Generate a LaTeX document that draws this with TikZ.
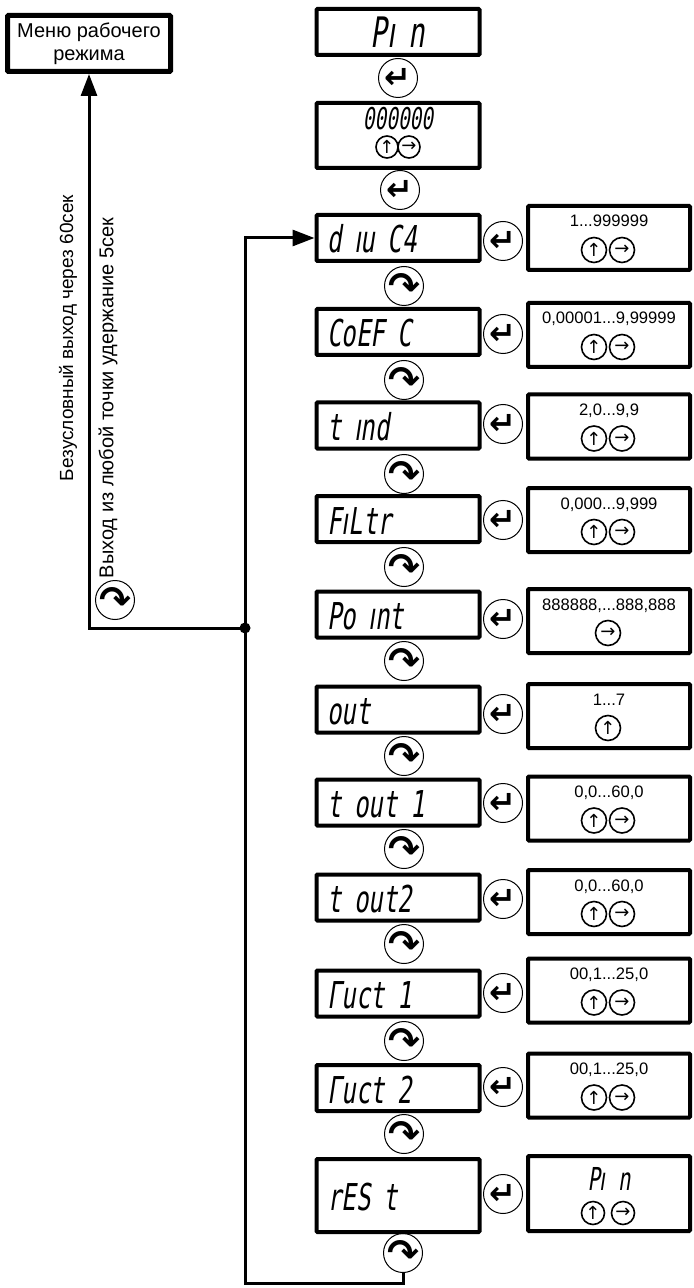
\documentclass[tikz,border=0pt]{standalone}
\usepackage{fontspec}
\setmainfont{Liberation Sans}
\newfontfamily\lcdfont[FakeSlant=0.15,FakeStretch=0.65]{DejaVu Sans Mono}
\newfontfamily\lcdsans[FakeSlant=0.15,FakeStretch=0.65]{DejaVu Sans}
\newfontfamily\symfont{DejaVu Sans}
\newcommand\segi{{\lcdsans ı}}
\usetikzlibrary{arrows.meta}

\tikzset{
  menu/.style={draw, line width=2.5pt, rounded corners=0.5pt, minimum width=81.5pt, minimum height=28pt,
    align=center, font=\fontsize{10}{11.5}\selectfont},
  lcd/.style={draw, line width=2pt, rounded corners=0.5pt, minimum height=23pt, inner xsep=5.5pt,
    text width=70.5pt, align=left, text height=15pt, text depth=0pt, font=\lcdfont\fontsize{18.5}{18.5}\selectfont},
  rng/.style={draw, line width=2pt, rounded corners=0.5pt, minimum width=81pt, minimum height=32pt},
  rtext/.style={inner sep=0pt, anchor=base, font=\fontsize{8.3}{10}\selectfont},
  key/.style={draw, circle, line width=0.5pt, minimum size=19.5pt, inner sep=0pt},
  enter/.style={key, label={[font=\symfont\bfseries\fontsize{16}{16}\selectfont]center:↵}},
  turn/.style={key, label={[font=\symfont\bfseries\fontsize{19}{19}\selectfont]center:↷}},
  btn/.style={draw, circle, line width=0.8pt, minimum size=12.5pt, inner sep=0pt, font=\symfont\fontsize{9}{9}\selectfont},
  flow/.style={line width=1.5pt, -{Triangle[length=11pt,width=8pt]}},
}

\begin{document}
\begin{tikzpicture}[x=0.5pt, y=-0.5pt]
    \useasboundingbox (0,0) rectangle (693,1288);

    % exit to the working menu
    \node[menu] (menu) at (89,43.5) {Меню рабочего\\режима};
    \node[rotate=90, font=\fontsize{9.5}{11}\selectfont] (note1) at (68,338) {Безусловный выход через 60сек};
    \node[rotate=90, font=\fontsize{10}{12}\selectfont] (note2) at (108,398) {Выход из любой точки удержание 5сек};
    \node[turn] (c0) at (115,600) {};

    % password
    \node[lcd, align=center, text height=15.3pt, font=\lcdfont\fontsize{21}{21}\selectfont] (pin) at (398,32) {P\segi{} n};
    \node[enter] (e1) at (398,78) {};
    \node[lcd, minimum height=32.5pt] (code) at (398,135.5) {};
    \node[inner sep=0pt, font=\lcdfont\fontsize{15}{15}\selectfont] (code-t) at (398,119) {000000};
    \node[btn, minimum size=11pt] (code-u) at (387,147) {↑};
    \node[btn, minimum size=11pt] (code-s) at (409,147) {→};
    \node[enter] (e2) at (400,190) {};

    % parameters
    \node[lcd] (div) at (398,238) {d \segi{}u C4};
    \node[enter] (div-e) at (503,241) {};
    \node[rng] (div-r) at (609,238) {};
    \node[rtext] (div-t) at (609,227) {1...999999};
    \node[btn] (div-u) at (594,250) {↑};
    \node[btn] (div-s) at (622,250) {→};
    \node[turn] (c1) at (404,286) {};

    \node[lcd] (coef) at (398,332) {CoEF C};
    \node[enter] (coef-e) at (503,334) {};
    \node[rng] (coef-r) at (609,335) {};
    \node[rtext] (coef-t) at (609,324) {0,00001...9,99999};
    \node[btn] (coef-u) at (594,347) {↑};
    \node[btn] (coef-s) at (622,347) {→};
    \node[turn] (c2) at (404,380) {};

    \node[lcd] (tind) at (398,425.5) {t  \segi{}nd};
    \node[enter] (tind-e) at (503,424) {};
    \node[rng] (tind-r) at (609,426.5) {};
    \node[rtext] (tind-t) at (609,415.5) {2,0...9,9};
    \node[btn] (tind-u) at (594,438.5) {↑};
    \node[btn] (tind-s) at (622,438.5) {→};
    \node[turn] (c3) at (404,474) {};

    \node[lcd] (filtr) at (398,519) {F\segi{}Ltr};
    \node[enter] (filtr-e) at (503,520) {};
    \node[rng] (filtr-r) at (609,520) {};
    \node[rtext] (filtr-t) at (609,509) {0,000...9,999};
    \node[btn] (filtr-u) at (594,532) {↑};
    \node[btn] (filtr-s) at (622,532) {→};
    \node[turn] (c4) at (404,567) {};

    \node[lcd] (point) at (398,614.5) {Po \segi{}nt};
    \node[enter] (point-e) at (503,619) {};
    \node[rng] (point-r) at (609,621) {};
    \node[rtext] (point-t) at (609,610) {888888,...888,888};
    \node[btn] (point-s) at (608,633) {→};
    \node[turn] (c5) at (404,661) {};

    \node[lcd] (out) at (398,709.5) {out};
    \node[enter] (out-e) at (503,714) {};
    \node[rng] (out-r) at (609,716) {};
    \node[rtext] (out-t) at (609,705) {1...7};
    \node[btn] (out-u) at (608,728) {↑};
    \node[turn] (c6) at (404,756) {};

    \node[lcd] (tout1) at (398,802.5) {t out 1};
    \node[enter] (tout1-e) at (503,803) {};
    \node[rng] (tout1-r) at (609,808.5) {};
    \node[rtext] (tout1-t) at (609,797.5) {0,0...60,0};
    \node[btn] (tout1-u) at (594,820.5) {↑};
    \node[btn] (tout1-s) at (622,820.5) {→};
    \node[turn] (c7) at (404,849) {};

    \node[lcd] (tout2) at (398,897.5) {t out2};
    \node[enter] (tout2-e) at (503,899) {};
    \node[rng] (tout2-r) at (609,902) {};
    \node[rtext] (tout2-t) at (609,891) {0,0...60,0};
    \node[btn] (tout2-u) at (594,914) {↑};
    \node[btn] (tout2-s) at (622,914) {→};
    \node[turn] (c8) at (404,944) {};

    \node[lcd] (gist1) at (398,993.5) {Гuct 1};
    \node[enter] (gist1-e) at (503,993) {};
    \node[rng] (gist1-r) at (609,990.5) {};
    \node[rtext] (gist1-t) at (609,979.5) {00,1...25,0};
    \node[btn] (gist1-u) at (594,1002.5) {↑};
    \node[btn] (gist1-s) at (622,1002.5) {→};
    \node[turn] (c9) at (404,1041) {};

    \node[lcd] (gist2) at (398,1088) {Гuct 2};
    \node[enter] (gist2-e) at (503,1087) {};
    \node[rng] (gist2-r) at (609,1085.5) {};
    \node[rtext] (gist2-t) at (609,1074.5) {00,1...25,0};
    \node[btn] (gist2-u) at (594,1097.5) {↑};
    \node[btn] (gist2-s) at (622,1097.5) {→};
    \node[turn] (c10) at (404,1134) {};

    \node[lcd, minimum height=36.5pt] (reset) at (398,1195.5) {rES t};
    \node[enter] (reset-e) at (503,1194) {};
    \node[rng, minimum height=37.5pt] (reset-r) at (609,1193.5) {};
    \node[inner sep=0pt, text height=11.5pt, text depth=0pt, font=\lcdfont\fontsize{15.8}{15.8}\selectfont] (reset-t) at (609,1178.5) {P\segi{} n};
    \node[btn, minimum size=11.5pt] (reset-u) at (593,1213) {↑};
    \node[btn, minimum size=11.5pt] (reset-s) at (623,1213) {→};
    \node[turn] (c11) at (403,1253) {};

    % return paths
    \coordinate (bl) at (245,1283);
    \coordinate (jn) at (245,628);
    \draw[flow] (c11) |- (bl) |- (div.west);
    \draw[flow] (jn) -| (menu.south);
    \fill (jn) circle (2.75pt);
\end{tikzpicture}
\end{document}
